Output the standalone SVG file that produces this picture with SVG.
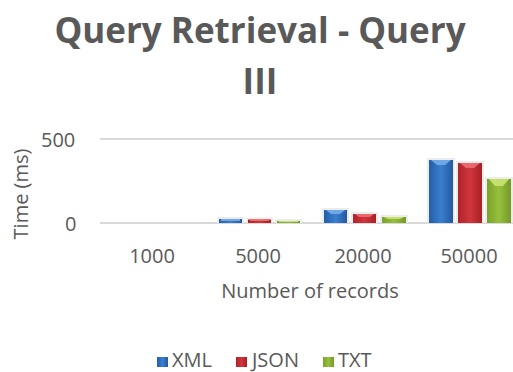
<svg xmlns="http://www.w3.org/2000/svg" width="513" height="372" viewBox="0 0 513 372">
<style>
text{font-family:"Open Sans","Liberation Sans",sans-serif;fill:#595959}
.title{font-size:35px;font-weight:bold;text-anchor:middle}
.tick{font-size:20px}
.cat{font-size:20px;text-anchor:middle}
.axt{font-size:20px;text-anchor:middle}
.leg{font-size:20px}
.grid{stroke:#d9d9d9;stroke-width:2}
.shadow{fill:#ececec}
.x{fill:url(#gx)}.j{fill:url(#gj)}.t{fill:url(#gt)}
.xc{fill:#6fa8e6}.jc{fill:#e8686d}.tc{fill:#c5e06a}
</style>
<defs>
<linearGradient id="gx" x1="0" x2="1" y1="0" y2="0"><stop offset="0" stop-color="#245fa8"/><stop offset="0.5" stop-color="#3a7fcf"/><stop offset="1" stop-color="#2459a0"/></linearGradient>
<linearGradient id="gj" x1="0" x2="1" y1="0" y2="0"><stop offset="0" stop-color="#b0232a"/><stop offset="0.5" stop-color="#d0363c"/><stop offset="1" stop-color="#a82026"/></linearGradient>
<linearGradient id="gt" x1="0" x2="1" y1="0" y2="0"><stop offset="0" stop-color="#7aa22c"/><stop offset="0.5" stop-color="#96c03c"/><stop offset="1" stop-color="#739a28"/></linearGradient>
</defs>
<g id="title">
<text class="title" x="260" y="43">Query Retrieval - Query</text>
<text class="title" x="260" y="94">III</text>
</g>
<g id="axes">
<line class="grid" x1="100" y1="139" x2="513" y2="139"/>
<line class="grid" x1="100" y1="223" x2="513" y2="223"/>
<text class="tick" x="41" y="147">500</text>
<text class="tick" x="65" y="231">0</text>
<text class="axt" transform="translate(28,194) rotate(-90)">Time (ms)</text>
<text class="cat" x="152" y="263">1000</text>
<text class="cat" x="258" y="263">5000</text>
<text class="cat" x="363" y="263">20000</text>
<text class="cat" x="469" y="263">50000</text>
<text class="axt" x="310" y="298">Number of records</text>
</g>
<g id="bars-5000">
<rect class="shadow" x="217" y="217" width="27" height="6"/>
<rect class="shadow" x="246" y="217.5" width="27" height="5.5"/>
<rect class="shadow" x="275" y="219" width="27" height="4"/>
<rect class="x" x="219" y="219" width="23" height="4"/><rect class="xc" x="221" y="219" width="19" height="2"/>
<rect class="j" x="248" y="219.5" width="23" height="3.5"/><rect class="jc" x="250" y="219.5" width="19" height="1.5"/>
<rect class="t" x="277" y="221" width="23" height="2"/><rect class="tc" x="279" y="221" width="19" height="1"/>
</g>
<g id="bars-20000">
<rect class="shadow" x="322" y="208" width="27" height="15"/>
<rect class="shadow" x="351" y="212" width="27" height="11"/>
<rect class="shadow" x="380" y="215" width="28" height="8"/>
<rect class="x" x="324" y="210" width="23" height="13"/><polygon class="xc" points="326,210 345,210 340,214 331,214"/>
<rect class="j" x="353" y="214" width="23" height="9"/><polygon class="jc" points="355,214 374,214 370,217 359,217"/>
<rect class="t" x="382" y="217" width="24" height="6"/><polygon class="tc" points="384,217 404,217 400,219 388,219"/>
</g>
<g id="bars-50000">
<rect class="shadow" x="427" y="158" width="28" height="65"/>
<rect class="shadow" x="456" y="161" width="28" height="62"/>
<rect class="shadow" x="485" y="177" width="28" height="46"/>
<rect class="x" x="429" y="160" width="24" height="63"/><polygon class="xc" points="431,160 451,160 445,165 437,165"/>
<rect class="j" x="458" y="163" width="24" height="60"/><polygon class="jc" points="460,163 480,163 474,168 466,168"/>
<rect class="t" x="487" y="179" width="24" height="44"/><polygon class="tc" points="489,179 509,179 503,186 495,186"/>
</g>
<g id="legend">
<rect class="x" x="157" y="357" width="11" height="10"/>
<text class="leg" x="172" y="367">XML</text>
<rect class="j" x="236" y="357" width="11" height="10"/>
<text class="leg" x="252" y="367">JSON</text>
<rect class="t" x="323" y="357" width="11" height="10"/>
<text class="leg" x="338" y="367">TXT</text>
</g>
</svg>
